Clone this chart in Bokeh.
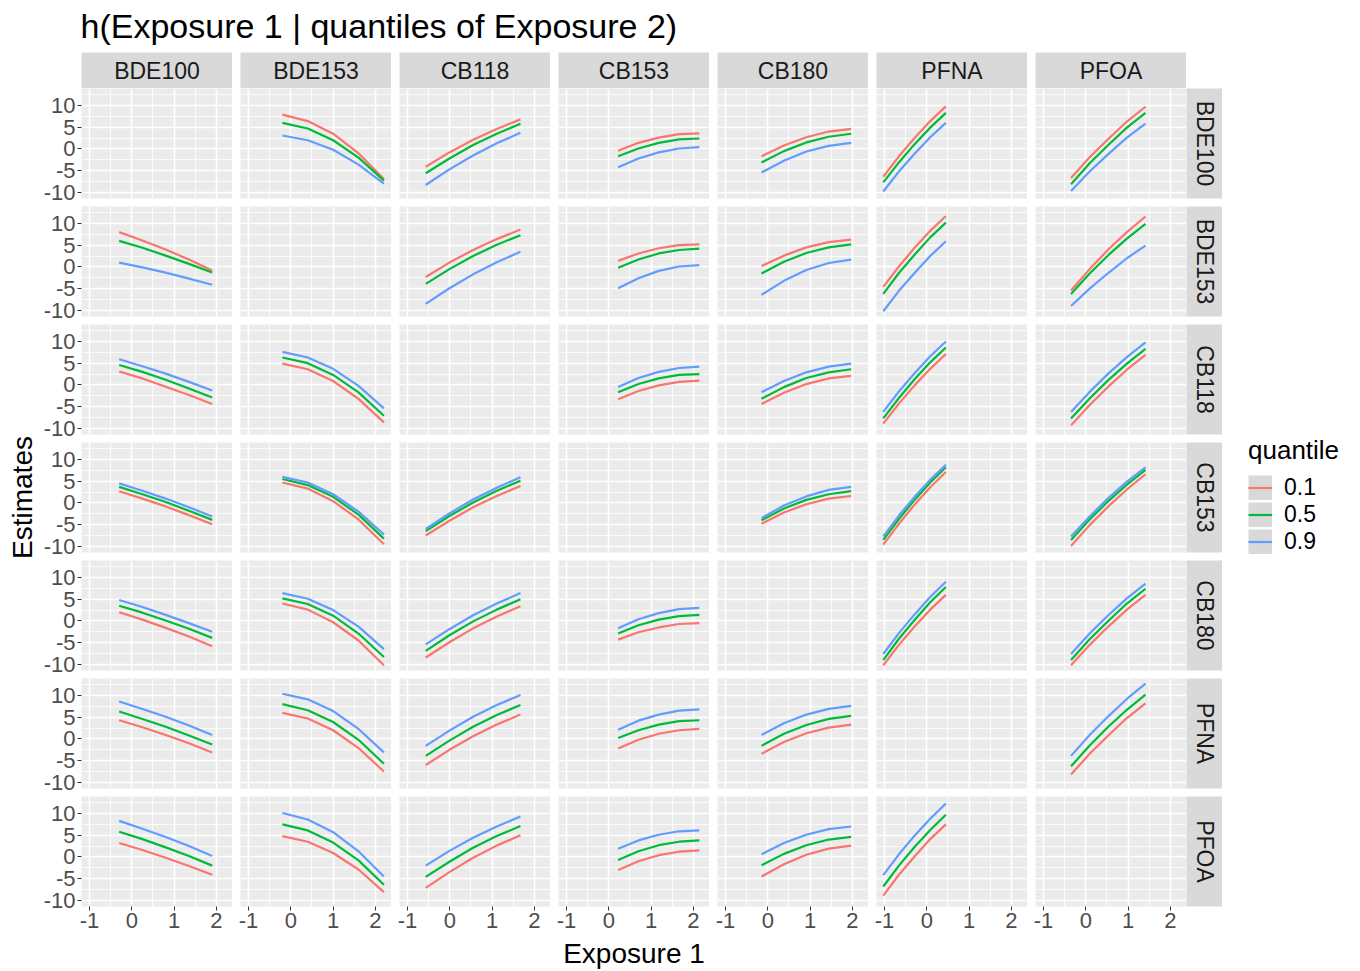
from math import pi
from bokeh.plotting import figure
from bokeh.layouts import row, column
from bokeh.models import Range1d, FixedTicker, Label, Legend, LegendItem
from bokeh.embed import file_html
from bokeh.resources import INLINE

# ---------------- data ----------------
exposures = ["BDE100", "BDE153", "CB118", "CB153", "CB180", "PFNA", "PFOA"]
quantiles = ["0.1", "0.5", "0.9"]
quantile_colors = ["#F8766D", "#00BA38", "#619CFF"]
x_ticks = [-1, 0, 1, 2]
x_tick_labels = ["-1", "0", "1", "2"]
x_minor = [-0.5, 0.5, 1.5]
y_ticks = [-10, -5, 0, 5, 10]
y_tick_labels = ["-10", "-5", "0", "5", "10"]
y_minor = [-7.5, -2.5, 2.5, 7.5, 12.5]

# Exposure 1 grid (x) for each column
x_BDE100 = [-0.3, 0.25, 0.8, 1.35, 1.9]
x_BDE153 = [-0.2, 0.4, 1.0, 1.6, 2.2]
x_CB118 = [-0.57, -0.01, 0.55, 1.11, 1.67]
x_CB153 = [0.22, 0.7, 1.18, 1.66, 2.14]
x_CB180 = [-0.15, 0.38, 0.91, 1.44, 1.97]
x_PFNA = [-1.03, -0.66, -0.29, 0.08, 0.45]
x_PFOA = [-0.35, 0.09, 0.53, 0.97, 1.41]

# h_<Exposure 1>_<Exposure 2>: estimates for quantile 0.1, 0.5, 0.9 of Exposure 2
h_BDE100_BDE153 = ([8.0, 6.1, 4.0, 1.7, -0.8], [6.0, 4.4, 2.6, 0.7, -1.3], [1.0, -0.1, -1.3, -2.7, -4.1])
h_BDE100_CB118 = ([3.1, 1.5, -0.4, -2.3, -4.4], [4.6, 3.0, 1.2, -0.8, -2.9], [5.9, 4.3, 2.6, 0.7, -1.3])
h_BDE100_CB153 = ([2.7, 1.0, -0.8, -2.8, -4.9], [3.7, 2.0, 0.2, -1.8, -3.9], [4.5, 2.8, 1.0, -1.0, -3.1])
h_BDE100_CB180 = ([2.0, 0.3, -1.6, -3.6, -5.8], [3.5, 1.9, 0.1, -1.8, -3.9], [4.8, 3.2, 1.4, -0.5, -2.5])
h_BDE100_PFNA = ([4.3, 2.7, 0.9, -1.0, -3.1], [6.3, 4.6, 2.8, 0.8, -1.3], [8.6, 6.9, 5.1, 3.1, 0.9])
h_BDE100_PFOA = ([3.2, 1.6, -0.2, -2.1, -4.1], [5.8, 4.1, 2.2, 0.2, -2.0], [8.3, 6.5, 4.6, 2.5, 0.2])

h_BDE153_BDE100 = ([7.9, 6.4, 3.5, -1.0, -6.9], [6.0, 4.7, 2.0, -2.0, -7.3], [3.1, 2.0, -0.2, -3.6, -8.0])
h_BDE153_CB118 = ([4.9, 3.6, 0.9, -3.2, -8.6], [6.3, 5.0, 2.3, -1.7, -7.1], [7.6, 6.3, 3.7, -0.2, -5.4])
h_BDE153_CB153 = ([4.7, 3.3, 0.4, -3.8, -9.5], [5.5, 4.1, 1.4, -2.7, -8.2], [6.0, 4.7, 2.0, -2.0, -7.3])
h_BDE153_CB180 = ([4.0, 2.6, -0.3, -4.5, -10.2], [5.2, 3.9, 1.2, -2.9, -8.3], [6.4, 5.1, 2.5, -1.3, -6.5])
h_BDE153_PFNA = ([6.0, 4.7, 2.0, -2.1, -7.5], [8.0, 6.6, 3.9, -0.2, -5.7], [10.4, 9.1, 6.4, 2.3, -3.1])
h_BDE153_PFOA = ([4.8, 3.5, 0.9, -2.9, -8.1], [7.5, 6.1, 3.3, -0.8, -6.4], [10.1, 8.6, 5.7, 1.3, -4.5])

h_CB118_BDE100 = ([-4.1, -0.8, 2.1, 4.6, 6.8], [-5.6, -2.2, 0.9, 3.5, 5.8], [-8.3, -4.7, -1.5, 1.3, 3.7])
h_CB118_BDE153 = ([-2.3, 1.0, 3.9, 6.4, 8.6], [-3.9, -0.5, 2.5, 5.1, 7.3], [-8.5, -4.9, -1.7, 1.1, 3.5])
h_CB118_CB153 = ([-7.5, -4.1, -1.0, 1.6, 3.9], [-6.5, -3.0, 0.1, 2.8, 5.1], [-6.0, -2.4, 0.8, 3.5, 5.9])
h_CB118_CB180 = ([-8.4, -4.9, -1.7, 1.0, 3.4], [-6.9, -3.3, -0.1, 2.6, 5.0], [-5.4, -1.9, 1.3, 4.0, 6.4])
h_CB118_PFNA = ([-6.0, -2.5, 0.6, 3.3, 5.6], [-3.9, -0.4, 2.8, 5.5, 7.8], [-1.6, 1.9, 5.1, 7.8, 10.1])
h_CB118_PFOA = ([-7.1, -3.5, -0.2, 2.6, 5.0], [-4.6, -1.1, 2.1, 4.8, 7.1], [-2.0, 1.4, 4.4, 7.0, 9.3])

h_CB153_BDE100 = ([-0.4, 1.4, 2.6, 3.4, 3.6], [-1.7, 0.1, 1.4, 2.2, 2.4], [-4.2, -2.2, -0.8, 0.1, 0.4])
h_CB153_BDE153 = ([1.4, 3.1, 4.3, 5.0, 5.2], [-0.2, 1.7, 3.1, 3.9, 4.2], [-4.9, -2.6, -0.9, 0.1, 0.4])
h_CB153_CB118 = ([-3.3, -1.4, -0.1, 0.7, 1.0], [-1.7, 0.2, 1.5, 2.3, 2.5], [-0.5, 1.6, 3.0, 3.9, 4.2])
h_CB153_CB180 = ([-4.3, -2.6, -1.5, -0.7, -0.5], [-2.9, -1.0, 0.3, 1.1, 1.4], [-1.7, 0.4, 1.8, 2.7, 3.0])
h_CB153_PFNA = ([-2.2, -0.2, 1.2, 2.0, 2.3], [0.2, 2.0, 3.3, 4.1, 4.3], [2.1, 4.2, 5.6, 6.5, 6.8])
h_CB153_PFOA = ([-3.0, -1.0, 0.4, 1.2, 1.5], [-0.7, 1.3, 2.7, 3.5, 3.8], [1.9, 3.8, 5.1, 5.9, 6.1])

h_CB180_BDE100 = ([-1.7, 0.8, 2.7, 4.0, 4.6], [-3.1, -0.5, 1.5, 2.8, 3.5], [-5.4, -2.7, -0.6, 0.7, 1.4])
h_CB180_BDE153 = ([0.2, 2.6, 4.5, 5.7, 6.3], [-1.5, 1.2, 3.2, 4.5, 5.2], [-6.4, -3.2, -0.7, 0.9, 1.7])
h_CB180_CB118 = ([-4.4, -1.8, 0.2, 1.5, 2.1], [-3.2, -0.5, 1.6, 2.9, 3.6], [-1.7, 0.9, 2.9, 4.2, 4.9])
h_CB180_CB153 = ([-4.8, -2.2, -0.3, 1.0, 1.6], [-4.0, -1.3, 0.7, 2.0, 2.7], [-3.5, -0.6, 1.5, 3.0, 3.7])
h_CB180_PFNA = ([-3.4, -0.7, 1.3, 2.6, 3.3], [-1.6, 1.2, 3.2, 4.6, 5.3], [0.9, 3.6, 5.6, 6.9, 7.6])
h_CB180_PFOA = ([-4.5, -1.7, 0.5, 1.9, 2.6], [-1.9, 0.7, 2.7, 4.0, 4.6], [0.6, 3.2, 5.1, 6.4, 7.0])

h_PFNA_BDE100 = ([-6.4, -1.7, 2.5, 6.4, 9.8], [-7.7, -3.1, 1.1, 4.9, 8.3], [-9.8, -5.2, -1.1, 2.7, 6.0])
h_PFNA_BDE153 = ([-4.6, 0.1, 4.4, 8.3, 11.7], [-6.2, -1.4, 2.8, 6.8, 10.2], [-10.2, -5.5, -1.4, 2.5, 5.9])
h_PFNA_CB118 = ([-8.9, -4.3, -0.1, 3.7, 7.1], [-7.7, -3.0, 1.3, 5.2, 8.6], [-6.2, -1.5, 2.7, 6.6, 10.0])
h_PFNA_CB153 = ([-9.6, -4.8, -0.4, 3.6, 7.1], [-8.5, -3.7, 0.7, 4.7, 8.2], [-7.7, -2.9, 1.4, 5.3, 8.8])
h_PFNA_CB180 = ([-10.2, -5.5, -1.3, 2.6, 6.0], [-9.0, -4.1, 0.2, 4.3, 7.8], [-7.6, -2.8, 1.5, 5.5, 9.0])
h_PFNA_PFOA = ([-8.9, -4.1, 0.1, 4.1, 7.5], [-6.8, -2.0, 2.3, 6.2, 9.7], [-4.2, 0.6, 4.9, 8.8, 12.3])

h_PFOA_BDE100 = ([-6.7, -1.9, 2.3, 6.3, 9.7], [-8.1, -3.3, 0.9, 4.9, 8.3], [-9.7, -5.2, -1.2, 2.6, 5.8])
h_PFOA_BDE153 = ([-5.4, -0.5, 4.0, 8.0, 11.6], [-6.2, -1.5, 2.7, 6.5, 9.9], [-9.0, -5.0, -1.4, 2.0, 4.9])
h_PFOA_CB118 = ([-9.3, -4.6, -0.4, 3.5, 6.9], [-7.7, -3.1, 1.1, 4.9, 8.3], [-6.2, -1.6, 2.6, 6.4, 9.8])
h_PFOA_CB153 = ([-9.9, -5.1, -0.8, 3.1, 6.6], [-8.5, -3.8, 0.4, 4.2, 7.6], [-7.7, -3.1, 1.1, 4.9, 8.2])
h_PFOA_CB180 = ([-10.2, -5.5, -1.3, 2.6, 6.0], [-9.0, -4.2, 0.0, 4.0, 7.4], [-7.6, -2.9, 1.3, 5.2, 8.6])
h_PFOA_PFNA = ([-8.2, -3.4, 0.8, 4.8, 8.2], [-6.3, -1.5, 2.8, 6.7, 10.2], [-3.9, 0.9, 5.2, 9.2, 12.7])

x_grids = {e: globals()["x_" + e] for e in exposures}
curves = {}
for c in exposures:
    for r in exposures:
        if c != r:
            curves[(c, r)] = globals()["h_%s_%s" % (c, r)]

# ---------------- layout constants ----------------
FONT = "Liberation Sans"
FW, FH = 151, 110
GAP = 8
LEFT = 41
BOTTOM = 31
STRIP = 36
EST_W = 40
LEG_W = 136
HEAD_H = 52
FOOT_H = 33
PANEL_BG = "#EBEBEB"
STRIP_BG = "#D9D9D9"
MAIN_W = (LEFT + FW) + 6 * (GAP + FW) + STRIP
MAIN_H = STRIP + 6 * (FH + GAP) + FH + BOTTOM + FOOT_H
TOTAL_W = EST_W + MAIN_W + LEG_W
X_RANGE = (-1.19, 2.38)
Y_RANGE = (-11.4, 13.9)


def blank(width, height, xr=(0, 1), yr=(0, 1)):
    p = figure(width=width, height=height, x_range=Range1d(*xr), y_range=Range1d(*yr),
               x_axis_location=None, y_axis_location=None,
               toolbar_location=None, output_backend="svg",
               min_border_left=0, min_border_right=0, min_border_top=0, min_border_bottom=0)
    p.outline_line_color = None
    p.border_fill_color = "white"
    p.background_fill_color = "white"
    p.xgrid.visible = False
    p.ygrid.visible = False
    return p


def style_axis(ax):
    ax.axis_line_color = None
    ax.major_tick_line_color = "#333333"
    ax.major_tick_line_width = 1
    ax.major_tick_out = 4
    ax.major_tick_in = 0
    ax.minor_tick_line_color = None
    ax.major_label_standoff = 2
    ax.major_label_text_font = FONT
    ax.major_label_text_font_size = "22px"
    ax.major_label_text_color = "#4D4D4D"


def panel(i, j):
    c = exposures[j]
    r = exposures[i]
    first_col = j == 0
    last_row = i == 6
    p = figure(frame_width=FW, frame_height=FH,
               x_range=Range1d(*X_RANGE), y_range=Range1d(*Y_RANGE),
               x_axis_location="below" if last_row else None,
               y_axis_location="left" if first_col else None,
               toolbar_location=None, output_backend="svg",
               min_border_left=LEFT if first_col else GAP, min_border_right=0,
               min_border_top=0, min_border_bottom=BOTTOM if last_row else GAP)
    p.background_fill_color = PANEL_BG
    p.border_fill_color = "white"
    p.outline_line_color = None
    p.xgrid.ticker = FixedTicker(ticks=x_ticks, minor_ticks=x_minor)
    p.ygrid.ticker = FixedTicker(ticks=y_ticks, minor_ticks=y_minor)
    for g in (p.xgrid, p.ygrid):
        g.grid_line_color = "white"
        g.grid_line_width = 1.6
        g.minor_grid_line_color = "white"
        g.minor_grid_line_width = 0.8
    if last_row:
        p.xaxis.ticker = FixedTicker(ticks=x_ticks)
        p.xaxis.major_label_overrides = dict(zip(x_ticks, x_tick_labels))
        style_axis(p.xaxis[0])
    if first_col:
        p.yaxis.ticker = FixedTicker(ticks=y_ticks)
        p.yaxis.major_label_overrides = dict(zip(y_ticks, y_tick_labels))
        style_axis(p.yaxis[0])
    if c != r:
        xs = x_grids[c]
        for k in range(3):
            p.line(xs, curves[(c, r)][k], line_color=quantile_colors[k], line_width=2.2)
    return p


def strip_fig(fw, fh, **borders):
    s = figure(frame_width=fw, frame_height=fh, x_range=Range1d(0, 1), y_range=Range1d(0, 1),
               x_axis_location=None, y_axis_location=None, toolbar_location=None, output_backend="svg",
               **borders)
    s.background_fill_color = STRIP_BG
    s.border_fill_color = "white"
    s.outline_line_color = None
    s.xgrid.visible = False
    s.ygrid.visible = False
    return s


def top_strip(j):
    s = strip_fig(FW, STRIP, min_border_left=LEFT if j == 0 else GAP, min_border_right=0,
                  min_border_top=0, min_border_bottom=0)
    s.add_layout(Label(x=0.5, y=0.5, text=exposures[j], text_align="center", text_baseline="middle",
                       text_font=FONT, text_font_size="23px", text_color="#1A1A1A"))
    return s


def right_strip(i):
    s = strip_fig(STRIP, FH, min_border_left=0, min_border_right=0, min_border_top=0,
                  min_border_bottom=BOTTOM if i == 6 else GAP)
    s.add_layout(Label(x=0.5, y=0.5, text=exposures[i], angle=-pi / 2, text_align="center",
                       text_baseline="middle", text_font=FONT, text_font_size="23px",
                       text_color="#1A1A1A"))
    return s


# header with title
header = blank(TOTAL_W, HEAD_H, xr=(0, TOTAL_W), yr=(0, HEAD_H))
header.add_layout(Label(x=EST_W + LEFT - 1, y=HEAD_H - 25, text="h(Exposure 1 | quantiles of Exposure 2)",
                        text_align="left", text_baseline="middle",
                        text_font=FONT, text_font_size="34px", text_color="black"))

# strips + panels
strip_row = row([top_strip(j) for j in range(7)])
panel_rows = [row([panel(i, j) for j in range(7)] + [right_strip(i)]) for i in range(7)]

# x-axis title
footer = blank(MAIN_W, FOOT_H, xr=(0, MAIN_W), yr=(0, FOOT_H))
panels_center = LEFT + (7 * FW + 6 * GAP) / 2.0
footer.add_layout(Label(x=panels_center, y=17, text="Exposure 1", text_align="center",
                        text_baseline="middle", text_font=FONT, text_font_size="28px",
                        text_color="black"))

main_col = column([strip_row] + panel_rows + [footer])

# y-axis title
est = blank(EST_W, MAIN_H, xr=(0, EST_W), yr=(0, MAIN_H))
panels_mid_from_bottom = FOOT_H + BOTTOM + (7 * FH + 6 * GAP) / 2.0
est.add_layout(Label(x=22, y=panels_mid_from_bottom, text="Estimates", angle=pi / 2,
                     text_align="center", text_baseline="middle", text_font=FONT,
                     text_font_size="28px", text_color="black"))

# legend (keys need one non-drawn row so the legend renders their glyphs)
lf = blank(LEG_W, MAIN_H, xr=(0, 1), yr=(0, 1))
nan = float("nan")
items = []
for k in range(3):
    bg = lf.line(x=[nan], y=[nan], line_color=STRIP_BG, line_width=25)
    ln = lf.line(x=[nan], y=[nan], line_color=quantile_colors[k], line_width=2.2)
    items.append(LegendItem(label=quantiles[k], renderers=[bg, ln]))
legend = Legend(items=items, location=(26, MAIN_H - (555 - HEAD_H)), title="quantile",
                title_text_font=FONT, title_text_font_size="26px", title_text_color="black",
                title_text_font_style="normal", title_standoff=8,
                label_text_font=FONT, label_text_font_size="23px", label_text_color="black",
                label_standoff=12, glyph_width=24, glyph_height=25, spacing=0,
                padding=0, margin=0, border_line_color=None, background_fill_alpha=0)
lf.add_layout(legend, "center")

layout = column(header, row(est, main_col, lf))

open("out.html", "w").write(file_html(layout, INLINE))
